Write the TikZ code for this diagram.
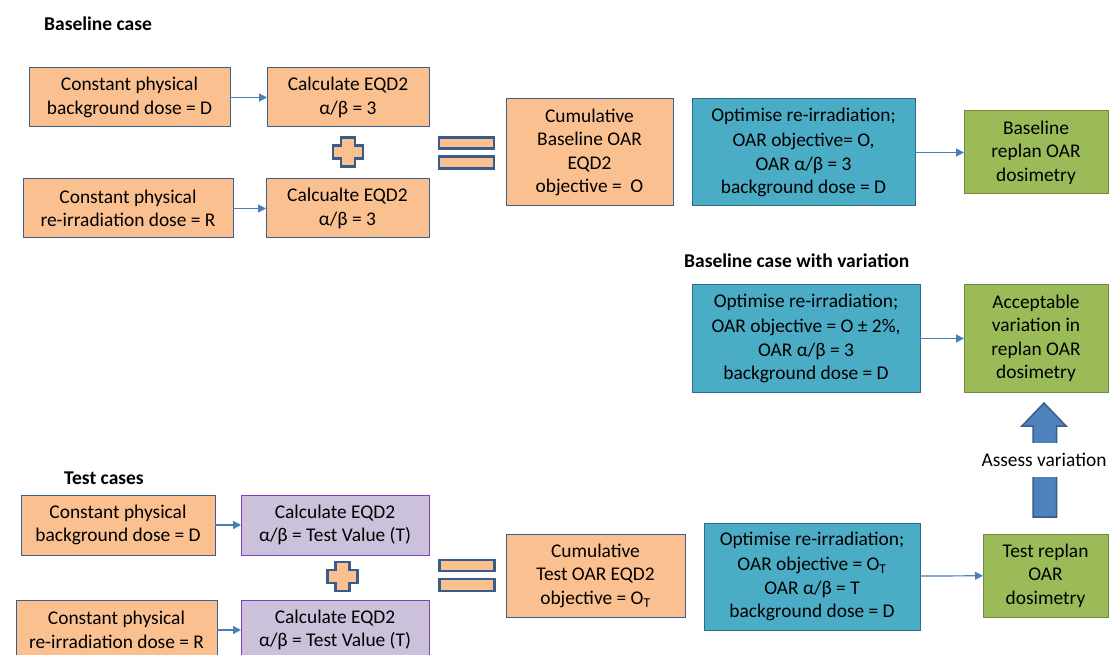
\documentclass[tikz,border=0pt]{standalone}
\usepackage{fontspec}
\setmainfont{Carlito}
\usetikzlibrary{arrows.meta}
\definecolor{orfill}{HTML}{FAC090}
\definecolor{orborder}{HTML}{3A5F8A}
\definecolor{blfill}{HTML}{4BACC6}
\definecolor{blborder}{HTML}{2E6B8E}
\definecolor{grfill}{HTML}{9BBB59}
\definecolor{grborder}{HTML}{71893F}
\definecolor{pufill}{HTML}{CCC1DA}
\definecolor{puborder}{HTML}{7F3FBF}
\definecolor{arrowc}{HTML}{4A7EBB}
\definecolor{bigfill}{HTML}{4F81BD}
\definecolor{bigborder}{HTML}{385D8A}
\newcommand\bxfont{\fontsize{19.4}{23.5}\selectfont}
\newcommand\ttlfont{\fontsize{19.5}{22}\selectfont\bfseries}
\tikzset{
  base/.style={inner sep=0pt, outer sep=0pt, align=center, line width=1pt, font=\bxfont, text=black},
  orangebox/.style={base, fill=orfill, draw=orborder},
  purplebox/.style={base, fill=pufill, draw=puborder},
  bluebox/.style={base, fill=blfill, draw=blborder},
  greenbox/.style={base, fill=grfill, draw=grborder},
  conn/.style={draw=arrowc, line width=1.2pt, -{Triangle[length=8pt,width=8pt]}},
  symb/.style={fill=orfill, draw=bigborder, line width=2.5pt, line join=miter},
  ttl/.style={font=\ttlfont, anchor=west, inner sep=0pt, text=black},
  plussign/.pic={\path[symb] (-7,-14.5)--(7,-14.5)--(7,-6.5)--(15,-6.5)--(15,6.5)--(7,6.5)--(7,14.5)--(-7,14.5)--(-7,6.5)--(-15,6.5)--(-15,-6.5)--(-7,-6.5)--cycle;},
  eqsign/.pic={\path[symb] (-27.5,-15.5) rectangle (27.5,-4.5);
               \path[symb] (-27.5,3.5) rectangle (27.5,15.5);}
}
\begin{document}
\begin{tikzpicture}[x=1pt,y=-1pt]
\useasboundingbox (0,0) rectangle (1109,655);
\clip (0,0) rectangle (1109,655);

% Baseline case
\node[ttl] (t1) at (44,24) {Baseline case};
\node[orangebox, minimum width=201pt, minimum height=59pt] (b1) at (129.5,97.5) {Constant physical\\background dose = D};
\node[orangebox, minimum width=162pt, minimum height=59pt] (b2) at (348,97.5) {Calculate EQD2\\α/β = 3};
\node[orangebox, minimum width=210pt, minimum height=59pt] (b3) at (128,208.5) {Constant physical\\re-irradiation dose = R};
\node[orangebox, minimum width=163pt, minimum height=59pt] (b4) at (347.5,208.5) {Calcualte EQD2\\α/β = 3};
\pic at (348,152) {plussign};
\pic at (466.5,153) {eqsign};
\node[orangebox, minimum width=167pt, minimum height=107pt] (c1) at (589.5,152.5) {Cumulative\\Baseline OAR\\EQD2\\objective =~ O};
\node[bluebox, minimum width=223pt, minimum height=107pt] (o1) at (803.5,152.5) {Optimise re-irradiation;\\[2pt]OAR objective= O,\\OAR α/β = 3\\background dose = D};
\node[greenbox, minimum width=144pt, minimum height=83pt] (g1) at (1036,152.5) {Baseline\\replan OAR\\dosimetry};
\draw[conn] (b1) -- (b2);
\draw[conn] (b3) -- (b4);
\draw[conn] (o1) -- (g1);

% Baseline case with variation
\node[ttl] (t2) at (684,261) {Baseline case with variation};
\node[bluebox, minimum width=228pt, minimum height=107pt] (o2) at (806,338.5) {Optimise re-irradiation;\\[2pt]OAR objective = O ± 2\%,\\OAR α/β = 3\\background dose = D};
\node[greenbox, minimum width=144pt, minimum height=107pt] (g2) at (1036,338.5) {Acceptable\\variation in\\replan OAR\\dosimetry};
\draw[conn] (o2) -- (g2);

% Big up arrow with its label
\path[fill=bigfill, draw=bigborder, line width=1.5pt, line join=miter]
  (1033,517) -- (1033,426) -- (1022,426) -- (1044,403) -- (1066,426) -- (1056.5,426) -- (1056.5,517) -- cycle;
\node[base, fill=white, minimum width=128pt, minimum height=34pt] (av) at (1044,460) {Assess variation};

% Test cases
\node[ttl] (t3) at (64,478) {Test cases};
\node[orangebox, minimum width=194pt, minimum height=60pt] (d1) at (118,525) {Constant physical\\background dose = D};
\node[purplebox, minimum width=188pt, minimum height=60pt] (d2) at (335,525) {Calculate EQD2\\α/β = Test Value (T)};
\node[orangebox, minimum width=201pt, minimum height=60pt] (d3) at (116.5,630) {Constant physical\\re-irradiation dose = R};
\node[purplebox, minimum width=188pt, minimum height=60pt] (d4) at (335,630) {Calculate EQD2\\α/β = Test Value (T)};
\pic at (342.5,576.5) {plussign};
\pic at (467,575.5) {eqsign};
\node[orangebox, minimum width=179pt, minimum height=83pt] (c2) at (595.5,575.5) {Cumulative\\Test OAR EQD2\\objective = O\textsubscript{T}};
\node[bluebox, minimum width=216pt, minimum height=107pt] (o3) at (812,576.5) {Optimise re-irradiation;\\[2pt]OAR objective = O\textsubscript{T}\\OAR α/β = T\\background dose = D};
\node[greenbox, minimum width=125pt, minimum height=83pt] (g3) at (1045.5,575.5) {Test replan\\OAR\\dosimetry};
\draw[conn] (d1) -- (d2);
\draw[conn] (d3) -- (d4);
\draw[conn] (o3) -- (g3);
\end{tikzpicture}
\end{document}
